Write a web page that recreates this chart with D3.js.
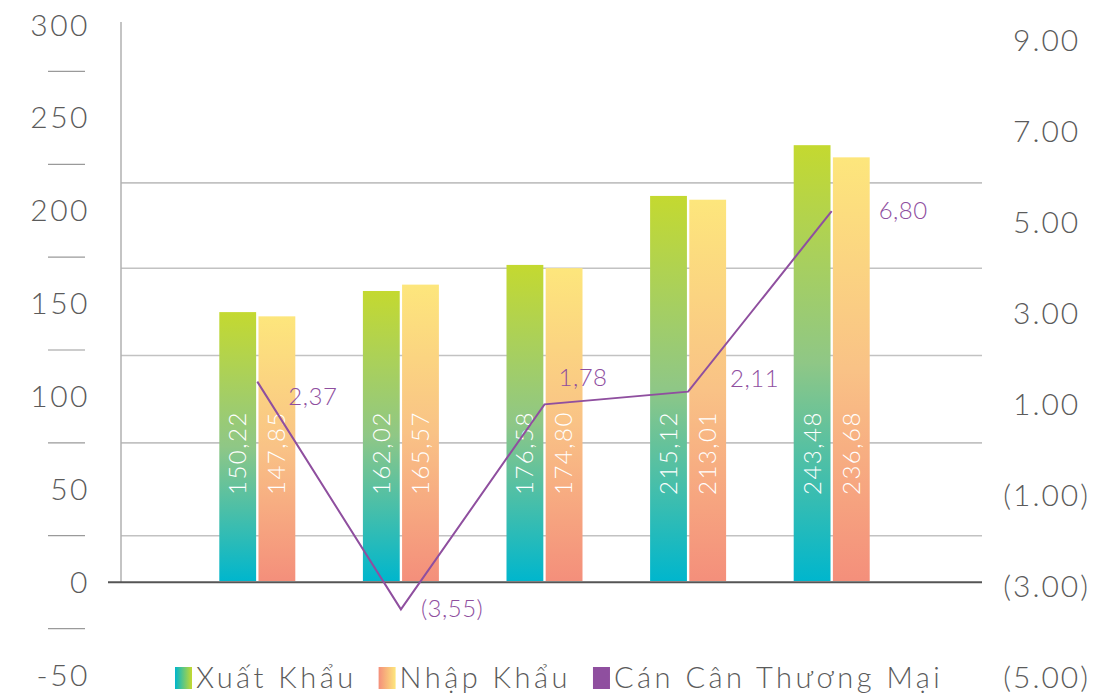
<!DOCTYPE html>
<html>
<head>
<meta charset="utf-8">
<script src="https://cdn.jsdelivr.net/npm/d3@7"></script>
<style>
  body { margin: 0; background: #fff; }
  svg { display: block; font-family: Lato, "Noto Sans", sans-serif; font-weight: 300; }
</style>
</head>
<body>
<svg></svg>
<script>
// données
const years = ["2015", "2016", "2017", "2018", "2019"];
const xuatKhau = [150.22, 162.02, 176.58, 215.12, 243.48];
const nhapKhau = [147.85, 165.57, 174.80, 213.01, 236.68];
const canCan = [2.37, -3.55, 1.78, 2.11, 6.80];
const leftTicks = [-50, 0, 50, 100, 150, 200, 250, 300];
const leftMinor = [-25, 25, 75, 125, 175, 225, 275];
const gridValues = [25, 75, 122, 169, 215];
const rightTicks = [-5, -3, -1, 1, 3, 5, 7, 9];
const legendNames = ["Xuất Khẩu", "Nhập Khẩu", "Cán Cân Thương Mại"];
// décalage des étiquettes de la ligne
const lineLabelOffsets = [[31, 15], [20, -1], [14, -27], [42, -13], [47, -1]];

const width = 1106, height = 695;
const svg = d3.select("svg").attr("width", width).attr("height", height);

const textColor = "#5b5b5b";
const purple = "#8f4f9f";

// échelles
const yLeft = d3.scaleLinear().domain([-50, 300]).range([675, 25]);
const yBar = d3.scaleLinear().domain([0, 300]).range([581, 44]);
const yRight = d3.scaleLinear().domain([-5, 9]).range([677, 40]);
const yLine = d3.scaleLinear().domain([-3.55, 6.8]).range([609.4, 211.2]);
const x = d3.scaleBand().domain(years).range([185.5, 903.5]);
const xSub = d3.scaleBand().domain(["xk", "nk"]).range([0, 76]).paddingInner(0.06);

const vi = d3.formatLocale({ decimal: ",", thousands: ".", grouping: [3], currency: ["", ""] });
const fmtVi = vi.format(".2f");

// dégradés
const defs = svg.append("defs");
function addGradient(id, stops, horizontal) {
    const g = defs.append("linearGradient").attr("id", id)
        .attr("x1", 0).attr("y1", 0)
        .attr("x2", horizontal ? 1 : 0).attr("y2", horizontal ? 0 : 1);
    stops.forEach(s => g.append("stop").attr("offset", s[0]).attr("stop-color", s[1]));
}
addGradient("gXk", [[0, "#c4d930"], [0.5, "#8fc786"], [1, "#00b6cd"]]);
addGradient("gNk", [[0, "#fde67c"], [0.5, "#f9c286"], [1, "#f48f7b"]]);
addGradient("lXk", [[0, "#00b6cd"], [1, "#c4d930"]], true);
addGradient("lNk", [[0, "#f48f7b"], [1, "#fde67c"]], true);

// grille
svg.append("g").selectAll("line")
    .data(gridValues)
    .enter()
    .append("line")
    .attr("x1", 121).attr("x2", 982)
    .attr("y1", d => yLeft(d)).attr("y2", d => yLeft(d))
    .attr("stroke", "#c2c2c2")
    .attr("stroke-width", 1.6);

// axe vertical
svg.append("line")
    .attr("x1", 121).attr("x2", 121)
    .attr("y1", 22).attr("y2", yLeft(0))
    .attr("stroke", "#b0b0b0")
    .attr("stroke-width", 1.5);

// axe gauche
svg.append("g").selectAll("text")
    .data(leftTicks)
    .enter()
    .append("text")
    .attr("x", 90)
    .attr("y", d => yLeft(d))
    .attr("dy", "0.35em")
    .attr("text-anchor", "end")
    .attr("font-size", 30)
    .attr("letter-spacing", 2.5)
    .attr("fill", textColor)
    .text(d => d);

svg.append("g").selectAll("line")
    .data(leftMinor)
    .enter()
    .append("line")
    .attr("x1", 48).attr("x2", 85)
    .attr("y1", d => yLeft(d)).attr("y2", d => yLeft(d))
    .attr("stroke", "#9a9a9a")
    .attr("stroke-width", 1.2);

// axe droit
const rightText = svg.append("g").selectAll("text")
    .data(rightTicks)
    .enter()
    .append("text")
    .attr("x", 1090)
    .attr("y", d => yRight(d))
    .attr("dy", "0.35em")
    .attr("text-anchor", "end")
    .attr("font-size", 30)
    .attr("letter-spacing", 2)
    .attr("fill", textColor);
rightText.append("tspan").text(d => d < 0 ? "(" + Math.abs(d).toFixed(2) + ")" : d.toFixed(2));
rightText.filter(d => d >= 0).append("tspan").attr("fill-opacity", 0).text(")");

// barres
const groups = svg.append("g").selectAll("g")
    .data(years)
    .enter()
    .append("g")
    .attr("transform", d => `translate(${x(d) + x.bandwidth() / 2 - 38},0)`);

const barData = (d, i) => [
    { key: "xk", value: xuatKhau[i], fill: "url(#gXk)" },
    { key: "nk", value: nhapKhau[i], fill: "url(#gNk)" }
];

groups.selectAll("rect")
    .data(barData)
    .enter()
    .append("rect")
    .attr("x", d => xSub(d.key))
    .attr("y", d => yBar(d.value))
    .attr("width", xSub.bandwidth())
    .attr("height", d => yBar(0) - yBar(d.value))
    .attr("fill", d => d.fill);

groups.selectAll("text")
    .data(barData)
    .enter()
    .append("text")
    .attr("transform", d => `translate(${xSub(d.key) + xSub.bandwidth() / 2},${yBar(0) - 86}) rotate(-90)`)
    .attr("dy", "0.35em")
    .attr("font-size", 24)
    .attr("letter-spacing", 1.5)
    .attr("fill", "#fff")
    .text(d => fmtVi(d.value));

// ligne zéro
svg.append("line")
    .attr("x1", 108).attr("x2", 982)
    .attr("y1", yLeft(0)).attr("y2", yLeft(0))
    .attr("stroke", "#555")
    .attr("stroke-width", 2);

// ligne cán cân
const line = d3.line()
    .x((d, i) => x(years[i]) + x.bandwidth() / 2)
    .y(d => yLine(d));

svg.append("path")
    .datum(canCan)
    .attr("d", line)
    .attr("fill", "none")
    .attr("stroke", purple)
    .attr("stroke-width", 2);

svg.append("g").selectAll("text")
    .data(canCan)
    .enter()
    .append("text")
    .attr("x", (d, i) => x(years[i]) + x.bandwidth() / 2 + lineLabelOffsets[i][0])
    .attr("y", (d, i) => yLine(d) + lineLabelOffsets[i][1])
    .attr("dy", "0.35em")
    .attr("font-size", 24)
    .attr("letter-spacing", 0.5)
    .attr("fill", purple)
    .text(d => d < 0 ? "(" + fmtVi(Math.abs(d)) + ")" : fmtVi(d));

// légende
const legendFills = ["url(#lXk)", "url(#lNk)", purple];
let lx = 175;
legendNames.forEach((name, i) => {
    svg.append("rect")
        .attr("x", lx).attr("y", 667)
        .attr("width", 17).attr("height", 22)
        .attr("fill", legendFills[i]);
    const t = svg.append("text")
        .attr("x", lx + 21)
        .attr("y", 678)
        .attr("dy", "0.35em")
        .attr("font-size", 29)
        .attr("letter-spacing", 3.5)
        .attr("fill", textColor)
        .text(name);
    lx += 21 + t.node().getComputedTextLength() + 22;
});
</script>
</body>
</html>
